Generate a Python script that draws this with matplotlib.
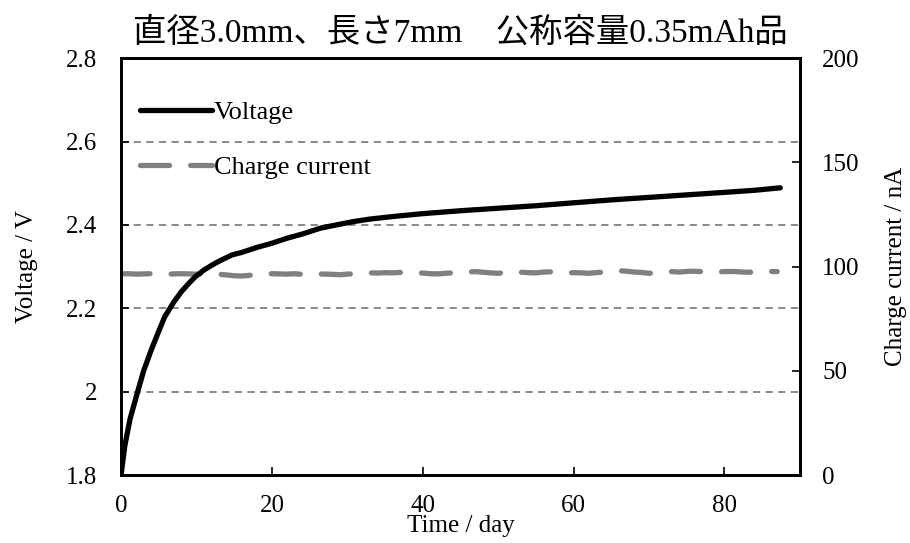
import matplotlib
matplotlib.use("Agg")
import matplotlib.pyplot as plt

plt.rcParams['font.family'] = ['Liberation Serif', 'Noto Sans CJK JP']

title = "直径3.0mm、長さ7mm\u3000公称容量0.35mAh品"

# voltage curve (day, V)
time_v = [0, 0.5, 1.2, 2.2, 3, 4, 5, 5.8, 7, 8, 9, 9.8, 11, 12, 13, 14.7, 16, 17,
          18, 20, 22, 24, 26.4, 28, 30.8, 33, 36, 40, 45, 50, 55, 60, 65, 70,
          75, 80, 84, 87.4]
voltage = [1.80, 1.87, 1.935, 2.0, 2.05, 2.10, 2.145, 2.18, 2.215, 2.24,
           2.26, 2.275, 2.292, 2.303, 2.313, 2.328, 2.334, 2.340, 2.346, 2.356,
           2.368, 2.378, 2.392, 2.398, 2.408, 2.414, 2.420, 2.427, 2.434, 2.440,
           2.446, 2.453, 2.460, 2.466, 2.472, 2.478, 2.483, 2.489]

# charge current (day, nA)
time_i = list(range(0, 88))
current = [96.5, 96.6, 96.4, 96.5, 96.6, 96.5, 96.4, 96.5, 96.6, 96.5,
           96.4, 96.5, 96.4, 96.3, 96.0, 95.6, 95.5, 95.8, 96.2, 96.4,
           96.6, 96.5, 96.4, 96.6, 96.3, 96.2, 96.5, 96.4, 96.3, 96.1,
           96.4, 96.6, 96.8, 97.0, 96.9, 97.1, 97.0, 97.2, 97.3, 97.1,
           96.9, 96.6, 96.5, 96.8, 97.0, 97.2, 97.4, 97.6, 97.3, 97.0,
           96.8, 97.2, 97.4, 97.3, 97.1, 97.0, 97.4, 97.5, 97.2, 97.0,
           97.1, 97.0, 96.8, 97.1, 97.4, 97.8, 98.0, 97.8, 97.4, 97.2,
           96.8, 97.1, 97.5, 97.6, 97.4, 97.7, 97.8, 97.6, 97.5, 97.4,
           97.6, 97.7, 97.5, 97.3, 97.4, 97.6, 97.7, 97.6]

v_ticks = [1.8, 2.0, 2.2, 2.4, 2.6, 2.8]
v_tick_labels = ["1.8", "2", "2.2", "2.4", "2.6", "2.8"]
i_ticks = [0, 50, 100, 150, 200]
x_ticks = [0, 20, 40, 60, 80]

fig = plt.figure(figsize=(9.1, 5.43), dpi=100)
ax = fig.add_axes([0.133, 0.125, 0.746, 0.768])
ax2 = ax.twinx()

ax.set_zorder(ax2.get_zorder() + 1)
ax.patch.set_visible(False)

for y in v_ticks[1:-1]:
    ax.axhline(y, color='#808080', lw=1.3, ls=(0, (4, 3)), zorder=0)

l1, = ax.plot(time_v, voltage, color='black', lw=3.8, solid_capstyle='round',
              label='Voltage', zorder=3)
l2, = ax2.plot(time_i, current, color='#808080', lw=3.8, ls=(0, (5.5, 4)),
               dash_capstyle='round', label='Charge current')

ax.set_xlim(0, 90)
ax.set_ylim(1.8, 2.8)
ax2.set_ylim(0, 200)
ax.set_xticks(x_ticks)
ax.set_yticks(v_ticks)
ax.set_yticklabels(v_tick_labels)
ax2.set_yticks(i_ticks)

ax.tick_params(direction='in', length=6, width=1.2, labelsize=18, pad=17)
ax.tick_params(axis='x', pad=14)
ax2.tick_params(direction='in', length=6, width=1.2, labelsize=18, pad=16)

for a in (ax, ax2):
    for s in a.spines.values():
        s.set_linewidth(2)

ax.set_xlabel("Time / day", fontsize=18, labelpad=-1)
ax.set_ylabel("Voltage / V", fontsize=18, labelpad=20)
ax2.set_ylabel("Charge current / nA", fontsize=18, labelpad=18)

ax.set_title(title, fontsize=24, pad=12)

leg = ax.legend(handles=[l1, l2], loc='upper left', frameon=False, fontsize=19,
                handlelength=2.7, handletextpad=0.1, labelspacing=1.2,
                borderaxespad=0.33, bbox_to_anchor=(0, 0.945))

fig.savefig("out.png", dpi=100)
